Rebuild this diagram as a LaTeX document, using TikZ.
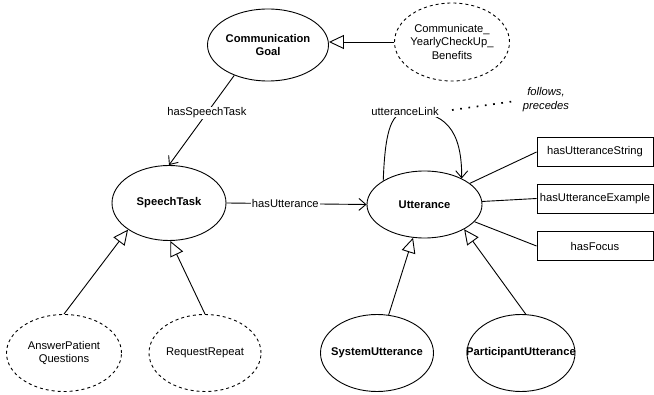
\documentclass[tikz,border=0pt]{standalone}
\usepackage{fontspec}
\setmainfont{Liberation Sans}
\usetikzlibrary{arrows.meta,shapes.geometric}

\begin{document}
\begin{tikzpicture}[x=1pt,y=-1pt,
  every node/.style={font=\fontsize{11.2}{13.5}\selectfont, align=center, inner sep=0pt},
  bold/.style={font=\fontsize{11.2}{13.5}\selectfont\bfseries},
  slanted/.style={font=\fontsize{11.2}{14}\selectfont\itshape},
  cls/.style={draw, ellipse, line width=0.9pt},
  inst/.style={draw, ellipse, line width=0.9pt, dash pattern=on 3pt off 3pt},
  prop/.style={draw, rectangle, line width=0.9pt, minimum width=116pt, minimum height=29pt},
  conn/.style={line width=0.9pt},
  rel/.style={conn, -{Straight Barb[length=7pt,width=12pt]}},
  isa/.style={conn, -{Triangle[open,length=15pt,width=14pt,fill=white]}},
  edgelabel/.style={fill=white, inner sep=1pt},
  note/.style={line width=1.7pt, dash pattern=on 1.7pt off 6.6pt},
]
\useasboundingbox (0,0) rectangle (654,395);

% classes and instances
\node[cls, minimum width=121pt, minimum height=72pt,
      label={[bold]center:Communication\\Goal}] (goal) at (268,45) {};
\node[inst, minimum width=115pt, minimum height=78pt,
      label={center:Communicate\_\\YearlyCheckUp\_\\Benefits}] (yearly) at (452,42) {};
\node[cls, minimum width=114pt, minimum height=75pt,
      label={[bold]center:SpeechTask}] (task) at (169,203) {};
\node[cls, minimum width=115pt, minimum height=67pt,
      label={[bold]center:Utterance}] (utt) at (424.5,204.5) {};
\node[inst, minimum width=115pt, minimum height=77pt,
      label={center:AnswerPatient\\Questions}] (answer) at (64,353) {};
\node[inst, minimum width=112pt, minimum height=77pt,
      label={center:RequestRepeat}] (repeat) at (205,353) {};
\node[cls, minimum width=113pt, minimum height=77pt,
      label={[bold]center:SystemUtterance}] (sysutt) at (377,353) {};
\node[cls, minimum width=108pt, minimum height=77pt,
      label={[bold]center:ParticipantUtterance}] (partutt) at (521,353) {};

% data properties
\node[prop] (str) at (595,152) {hasUtteranceString};
\node[prop] (ex) at (595,198.5) {hasUtteranceExample};
\node[prop] (focus) at (595,246) {hasFocus};

% subclass / instance-of links
\draw[isa] (yearly.west) -- (yearly.west -| goal.east);
\draw[isa] (answer.north) -- (task.213);
\draw[isa] (repeat.north) -- (task.272);
\draw[isa] (sysutt.73) -- (utt.251);
\draw[isa] (partutt.83) -- (utt.-32);

% object properties
\draw[rel] (goal.222) -- node[edgelabel, pos=0.42] {hasSpeechTask} (task.north);
\draw[rel] (task.east) -- node[edgelabel, pos=0.42] {hasUtterance} (utt.west);
\draw[rel] (utt.150) .. controls (385,135) and (390,114) .. (405,112)
  node[edgelabel] (linklabel) {utteranceLink}
  .. controls (445,110) and (462,130) .. (utt.35);

% data property links
\draw[conn] (utt.25) -- (str.west);
\draw[conn] (utt.3) -- (ex.west);
\draw[conn] (utt.-19) -- (focus.west);

% sub-properties of utteranceLink
\coordinate (dotstart) at (452,110);
\node[slanted] (fp) at (546,100) {follows,\\precedes};
\draw[note, shorten >=8pt] (dotstart) -- (fp.west);
\end{tikzpicture}
\end{document}
